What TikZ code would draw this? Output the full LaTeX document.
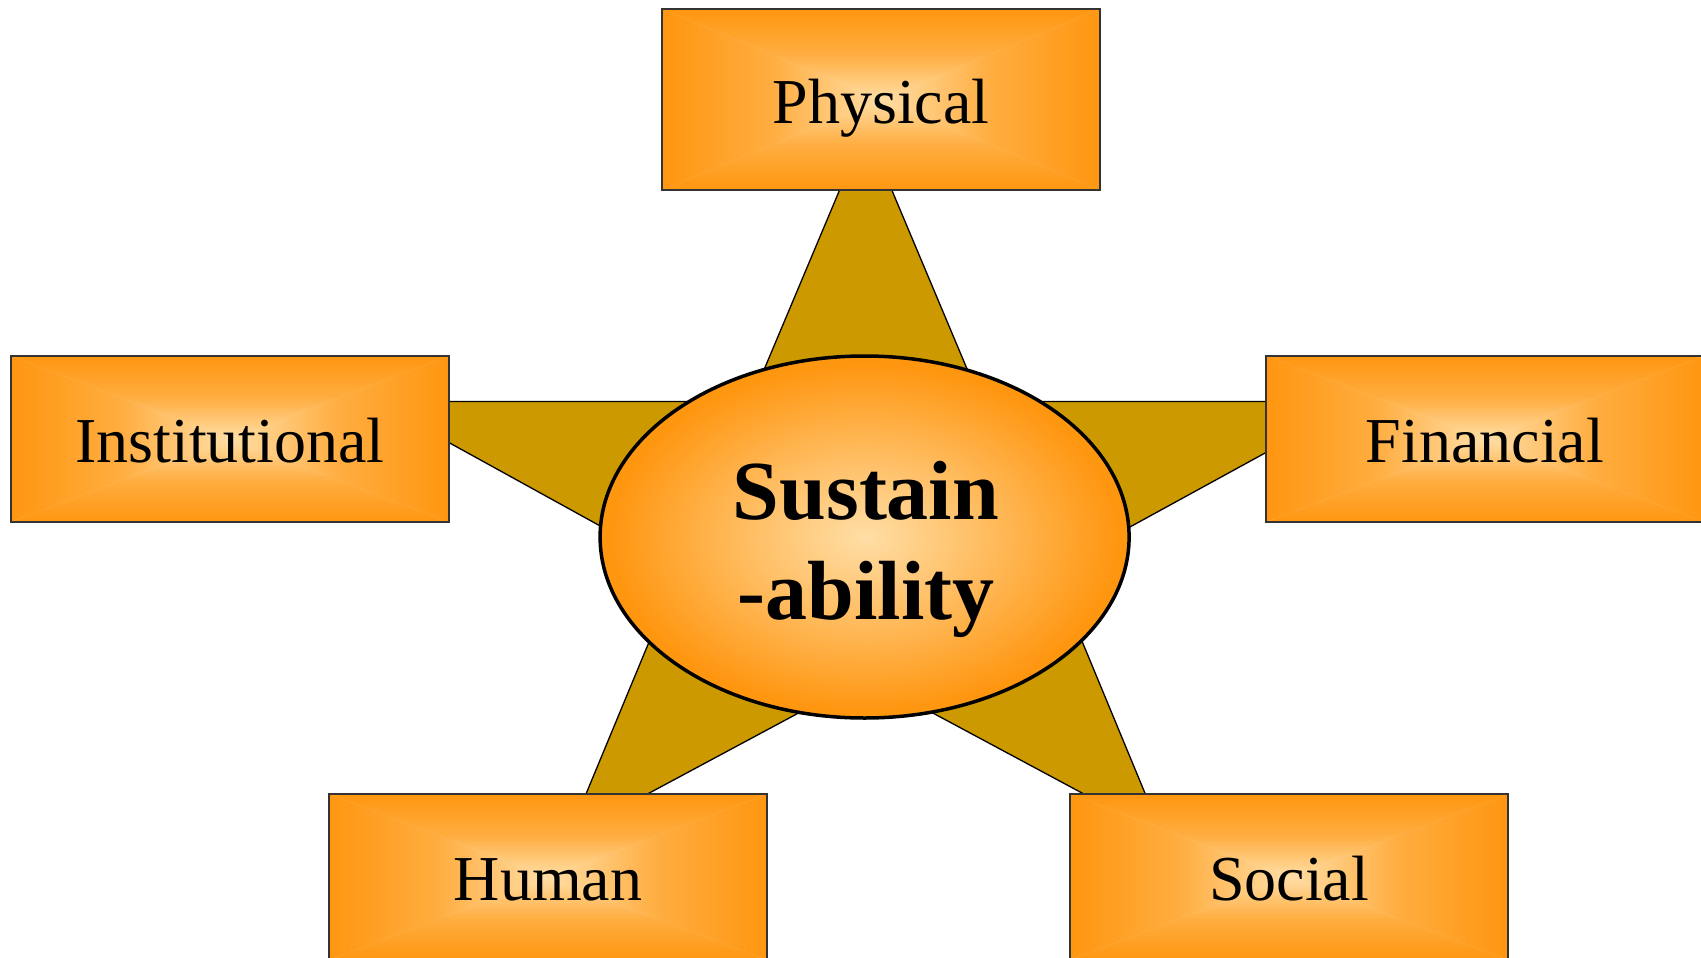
\documentclass[tikz,border=0pt]{standalone}
\usepackage{fontspec}
\setmainfont{Liberation Serif}
\usetikzlibrary{shapes.geometric}
\definecolor{boxorange}{RGB}{255,150,16}
\definecolor{boxlight}{RGB}{255,222,166}
\definecolor{stargold}{RGB}{204,153,0}
\colorlet{boxmid}{boxorange!68!boxlight}
\pgfdeclareradialshading{ellshade}{\pgfpoint{0bp}{0bp}}{color(0bp)=(boxlight); color(11bp)=(boxorange!45!boxlight); color(24bp)=(boxorange); color(50bp)=(boxorange)}
\newcommand\rectgrad{%
  \path (path picture bounding box.north west) coordinate (gNW)
        (path picture bounding box.north east) coordinate (gNE)
        (path picture bounding box.south west) coordinate (gSW)
        (path picture bounding box.south east) coordinate (gSE)
        (path picture bounding box.center) coordinate (gC);
  \fill[boxlight] (gNW) rectangle (gSE);
  \begin{scope}
    \clip (gNW) -- (gNE) -- (gC) -- cycle;
    \shade[top color=boxorange, bottom color=boxlight, middle color=boxmid] (gNW) rectangle (gC -| gNE);
  \end{scope}
  \begin{scope}
    \clip (gSW) -- (gSE) -- (gC) -- cycle;
    \shade[top color=boxlight, bottom color=boxorange, middle color=boxmid] (gC -| gSW) rectangle (gSE);
  \end{scope}
  \begin{scope}
    \clip (gNW) -- (gSW) -- (gC) -- cycle;
    \shade[left color=boxorange, right color=boxlight, middle color=boxmid] (gNW) rectangle (gC |- gSW);
  \end{scope}
  \begin{scope}
    \clip (gNE) -- (gSE) -- (gC) -- cycle;
    \shade[left color=boxlight, right color=boxorange, middle color=boxmid] (gC |- gNE) rectangle (gSE);
  \end{scope}
}
\tikzset{
  gbox/.style={rectangle, draw=black!80, line width=1.6pt, minimum width=438pt,
    inner sep=0pt, path picture={\rectgrad}, font=\fontsize{64}{70}\selectfont,
    text height=47pt, text depth=0pt},
  starshape/.style={fill=stargold, draw=black, line width=1.3pt, line join=miter},
  core/.style={ellipse, draw=black, line width=3.5pt, minimum width=529pt,
    minimum height=362pt, inner sep=0pt, shade, shading=ellshade},
  coretext/.style={font=\fontsize{84}{100}\selectfont\bfseries, anchor=base, inner sep=0pt}
}
\begin{document}
\begin{tikzpicture}[x=1pt,y=-1pt]
\useasboundingbox (0,0) rectangle (1701,958);
\coordinate (sT) at (865.7,128);
\coordinate (sI1) at (980.7,401.4);
\coordinate (sR) at (1359.3,401.4);
\coordinate (sI2) at (1052.3,569.5);
\coordinate (sBR) at (1162.9,836.4);
\coordinate (sI3) at (865.7,677);
\coordinate (sBL) at (568.4,836.4);
\coordinate (sI4) at (679.1,569.5);
\coordinate (sL) at (374.3,401.4);
\coordinate (sI5) at (750.7,401.4);
\draw[starshape] (sT) -- (sI1) -- (sR) -- (sI2) -- (sBR) -- (sI3) -- (sBL) -- (sI4) -- (sL) -- (sI5) -- cycle;
\node[gbox, minimum height=181pt] (phys) at (881,99.5) {Physical};
\node[gbox, minimum height=166pt] (inst) at (230,439) {Institutional};
\node[gbox, minimum height=166pt] (fin) at (1485,439) {Financial};
\node[gbox, minimum height=166pt] (hum) at (548,877) {Human};
\node[gbox, minimum height=166pt] (soc) at (1289,877) {Social};
\node[core] (core) at (864.6,537) {};
\node[coretext] (t1) at (866,519) {Sustain};
\node[coretext] (t2) at (866,619) {-ability};
\end{tikzpicture}
\end{document}
